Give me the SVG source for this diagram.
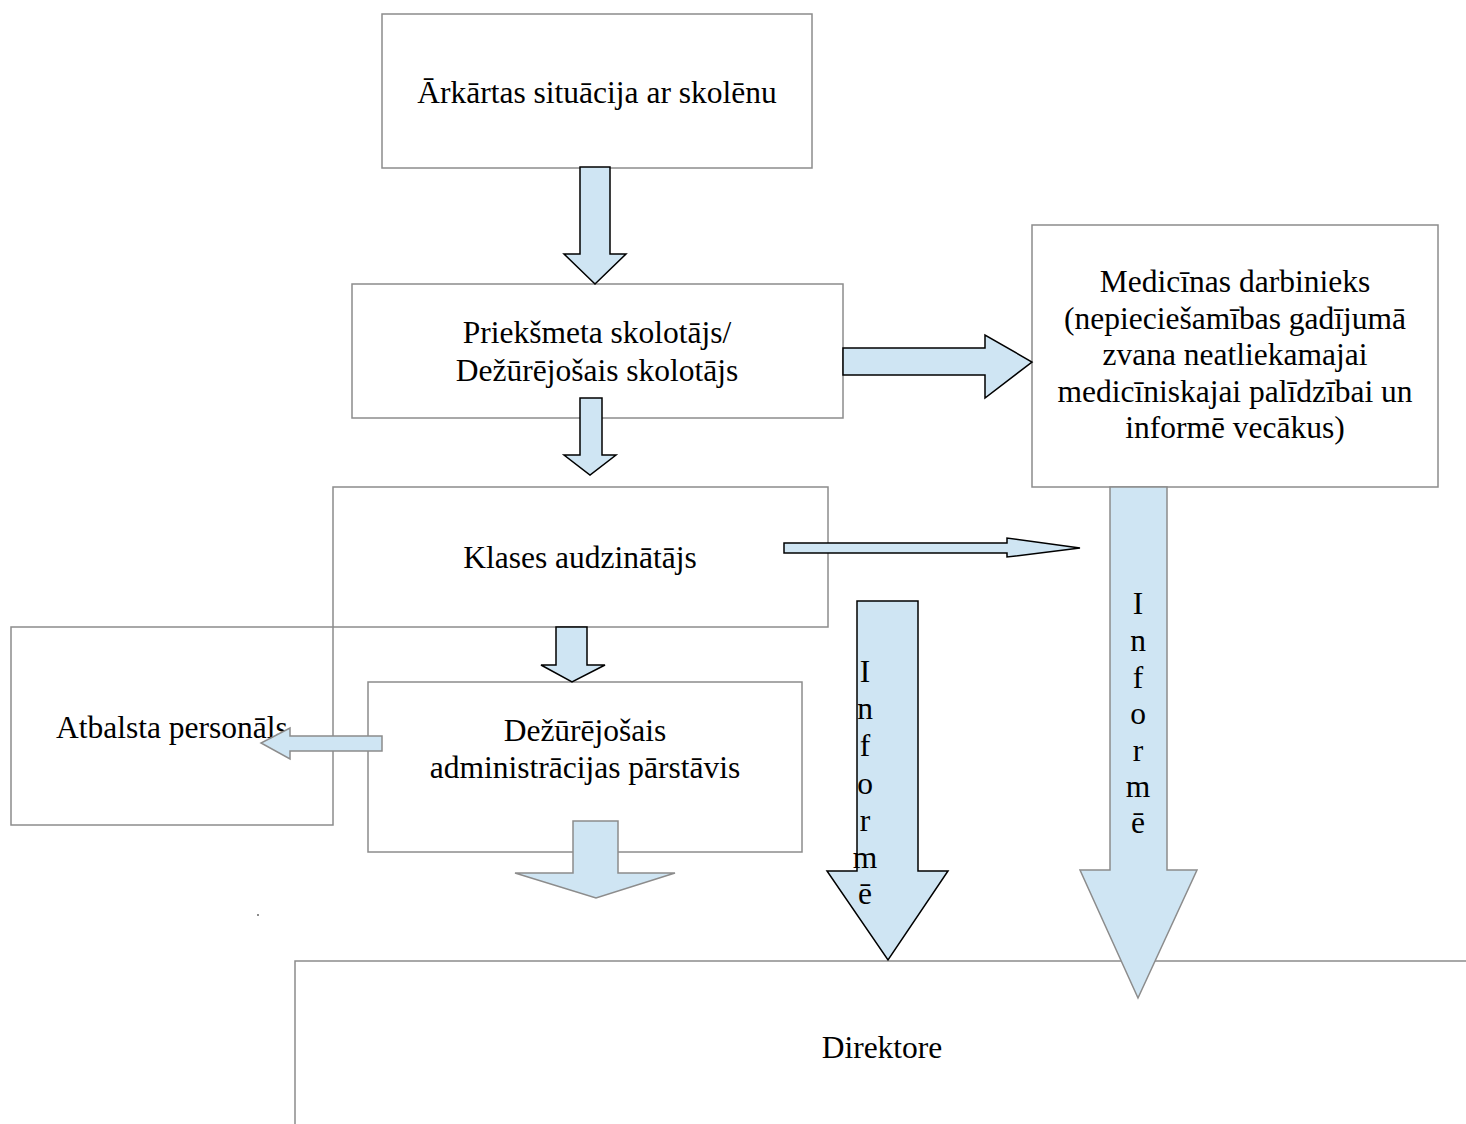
<svg xmlns="http://www.w3.org/2000/svg" width="1466" height="1124" viewBox="0 0 1466 1124">
<style>
.box{fill:#fff;stroke:#8c8c8c;stroke-width:1.5}
.t{font-family:"Liberation Serif","Times New Roman",serif;font-size:31.5px;fill:#000;text-anchor:middle}
.ab{fill:#cfe5f3;stroke:#000;stroke-width:1.5;stroke-linejoin:miter}
.ag{fill:#cfe5f3;stroke:#8c8c8c;stroke-width:1.5;stroke-linejoin:miter}
</style>
<rect width="1466" height="1124" fill="#fff"/>
<g id="n-direktore">
<path d="M295,1124 V961 H1466" class="box" fill="#fff"/>
<text class="t" x="882" y="1058">Direktore</text>
</g>
<g id="n-arkartas">
<rect class="box" x="382" y="14" width="430" height="154"/>
<text class="t" x="597" y="103">Ārkārtas situācija ar skolēnu</text>
</g>
<g id="n-prieksmeta">
<rect class="box" x="352" y="284" width="491" height="134"/>
<text class="t" x="597" y="343">Priekšmeta skolotājs/</text>
<text class="t" x="597" y="381">Dežūrējošais skolotājs</text>
</g>
<g id="n-medicinas">
<rect class="box" x="1032" y="225" width="406" height="262"/>
<text class="t" x="1235" y="292">Medicīnas darbinieks</text>
<text class="t" x="1235" y="329">(nepieciešamības gadījumā</text>
<text class="t" x="1235" y="365">zvana neatliekamajai</text>
<text class="t" x="1235" y="402">medicīniskajai palīdzībai un</text>
<text class="t" x="1235" y="438">informē vecākus)</text>
</g>
<g id="n-klases">
<rect class="box" x="333" y="487" width="495" height="140"/>
<text class="t" x="580" y="568">Klases audzinātājs</text>
</g>
<g id="n-atbalsta">
<rect class="box" x="11" y="627" width="322" height="198"/>
<text class="t" x="56" y="738" style="text-anchor:start">Atbalsta personāls</text>
</g>
<g id="n-dezurejosais">
<rect class="box" x="368" y="682" width="434" height="170"/>
<text class="t" x="585" y="741">Dežūrējošais</text>
<text class="t" x="585" y="778">administrācijas pārstāvis</text>
</g>
<g id="connectors">
<polygon class="ab" points="580,167 610,167 610,254 626,254 595,284 564,254 580,254"/>
<polygon class="ab" points="843,348 985,348 985,335 1032,362 985,398 985,375 843,375"/>
<polygon class="ab" points="580,398 602,398 602,455 616,455 590,475 564,455 580,455"/>
<polygon class="ab" points="784,543 1007,543 1007,538 1080,548 1007,557 1007,553 784,553"/>
<polygon class="ab" points="556,627 587,627 587,665 605,665 572,682 541,665 556,665"/>
<polygon class="ag" points="382,736 382,751 290,751 290,759 261,743 290,728 290,736"/>
<polygon class="ag" points="573,821 618,821 618,873 675,873 596,898 515,873 573,873"/>
<rect x="257" y="914" width="2" height="2" fill="#8c8c8c"/>
<polygon class="ab" points="857,601 918,601 918,871 948,871 888,960 827,871 857,871"/>
<g class="t">
<text x="865" y="682">I</text>
<text x="865" y="719">n</text>
<text x="865" y="756">f</text>
<text x="865" y="794">o</text>
<text x="865" y="831">r</text>
<text x="865" y="868">m</text>
<text x="865" y="904">ē</text>
</g>
<polygon class="ag" points="1110,487 1167,487 1167,870 1197,870 1138,998 1080,870 1110,870"/>
<g class="t">
<text x="1138" y="614">I</text>
<text x="1138" y="651">n</text>
<text x="1138" y="688">f</text>
<text x="1138" y="724">o</text>
<text x="1138" y="761">r</text>
<text x="1138" y="797">m</text>
<text x="1138" y="833">ē</text>
</g>
</g>
</svg>
